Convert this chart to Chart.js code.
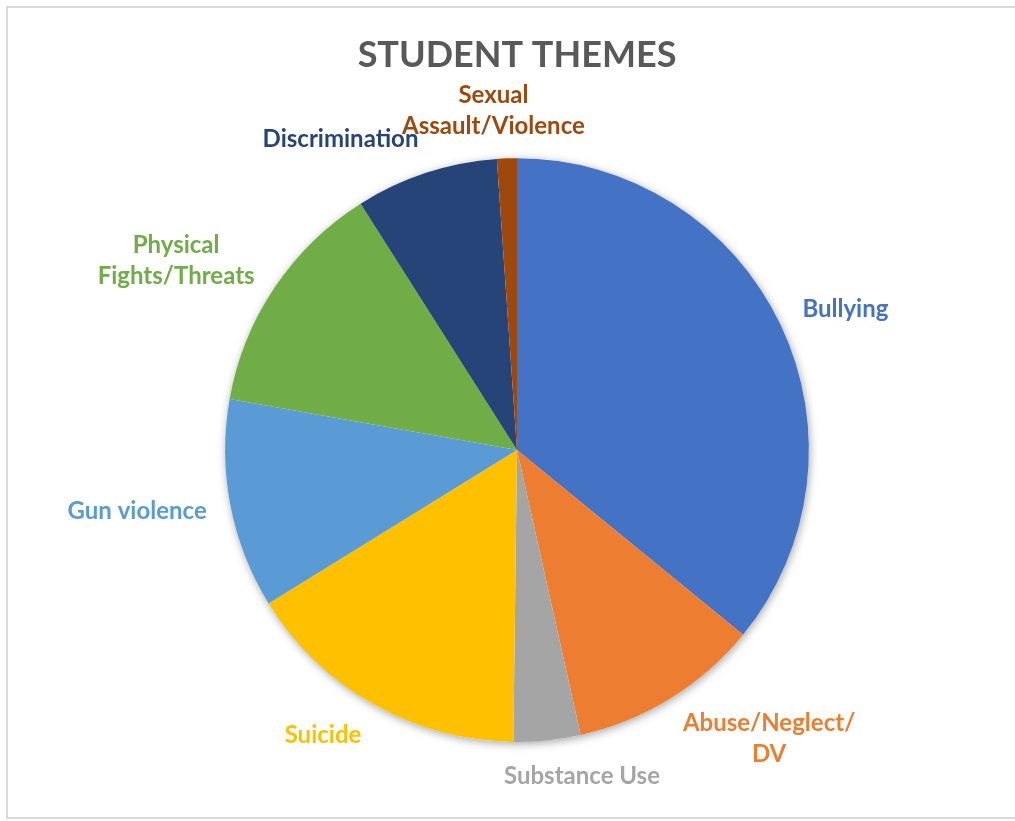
<!DOCTYPE html>
<html lang="en">
<head>
    <meta charset="UTF-8">
    <title>Student Themes</title>
    <script src="https://cdn.jsdelivr.net/npm/chart.js@4.4.1/dist/chart.umd.min.js"></script>
    <style>
        body {
            margin: 0;
            background-color: #ffffff;
        }
        #wrap {
            position: relative;
            width: 1015px;
            height: 821px;
        }
        #frame {
            position: absolute;
            left: 6px;
            top: 6px;
            width: 1020px;
            height: 813px;
            box-sizing: border-box;
            border: 2px solid #d9d9d9;
            pointer-events: none;
        }
    </style>
</head>
<body>
    <div id="wrap">
        <canvas id="themesChart" width="1015" height="821"></canvas>
        <div id="frame"></div>
    </div>

    <script>
        // Data (share of responses, %)
        const themes = [
            ['Bullying'],
            ['Abuse/Neglect/', 'DV'],
            ['Substance Use'],
            ['Suicide'],
            ['Gun violence'],
            ['Physical', 'Fights/Threats'],
            ['Discrimination'],
            ['Sexual', 'Assault/Violence']
        ];
        const shares = [35.9, 10.6, 3.7, 16.0, 11.6, 13.2, 7.9, 1.1];
        const sliceColors = ['#4472C4', '#ED7D31', '#A5A5A5', '#FFC000', '#5B9BD5', '#70AD47', '#264478', '#9E480E'];

        const FONT = 'Lato, "Open Sans", sans-serif';

        // soft shadow under the whole pie
        const pieShadow = {
            id: 'pieShadow',
            beforeDatasetsDraw(chart) {
                const arc = chart.getDatasetMeta(0).data[0];
                if (!arc) return;
                const ctx = chart.ctx;
                ctx.save();
                ctx.shadowColor = 'rgba(0,0,0,0.35)';
                ctx.shadowBlur = 8;
                ctx.shadowOffsetX = 1;
                ctx.shadowOffsetY = 2;
                ctx.fillStyle = '#ffffff';
                ctx.beginPath();
                ctx.arc(arc.x, arc.y, arc.outerRadius, 0, Math.PI * 2);
                ctx.fill();
                ctx.restore();
            }
        };

        // category labels outside the slices, Excel style
        const outsideLabels = {
            id: 'outsideLabels',
            afterDatasetsDraw(chart) {
                const ctx = chart.ctx;
                const lineH = 31;
                ctx.save();
                ctx.font = 'bold 24px ' + FONT;
                ctx.textAlign = 'center';
                ctx.textBaseline = 'middle';
                chart.getDatasetMeta(0).data.forEach((arc, i) => {
                    const lines = themes[i];
                    const mid = (arc.startAngle + arc.endAngle) / 2;
                    const dx = Math.cos(mid), dy = Math.sin(mid);
                    const r = arc.outerRadius + 24;
                    const ax = arc.x + dx * r;
                    const ay = arc.y + dy * r;
                    const w = Math.max(...lines.map(l => ctx.measureText(l).width));
                    const h = lines.length * lineH;
                    const fx = Math.max(-1, Math.min(1, dx * 4));
                    const cx = ax + fx * w / 2;
                    const cy = ay + dy * 0.75 * h / 2;
                    ctx.fillStyle = sliceColors[i];
                    lines.forEach((l, j) => {
                        ctx.fillText(l, cx, cy - h / 2 + lineH / 2 + j * lineH);
                    });
                });
                ctx.restore();
            }
        };

        new Chart(document.getElementById('themesChart'), {
            type: 'pie',
            data: {
                labels: themes.map(t => t.join(' ')),
                datasets: [{
                    data: shares,
                    backgroundColor: sliceColors,
                    borderWidth: 0
                }]
            },
            options: {
                responsive: false,
                animation: false,
                layout: {
                    padding: { left: 19, right: 0, top: 0, bottom: 79 }
                },
                plugins: {
                    legend: { display: false },
                    tooltip: { enabled: false },
                    title: {
                        display: true,
                        text: 'STUDENT THEMES',
                        color: '#595959',
                        font: { family: FONT, size: 36, weight: 'bold', lineHeight: 1.2 },
                        padding: { top: 34, bottom: 81 }
                    }
                }
            },
            plugins: [pieShadow, outsideLabels]
        });
    </script>
</body>
</html>
